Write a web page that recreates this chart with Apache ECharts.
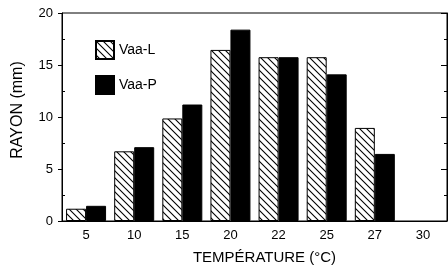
<!DOCTYPE html>
<html>
<head>
<meta charset="utf-8">
<script src="https://cdn.jsdelivr.net/npm/echarts@6/dist/echarts.min.js"></script>
<style>
  html, body { margin: 0; padding: 0; background: #fff; }
  #chart { width: 448px; height: 267px; }
</style>
</head>
<body>
<div id="chart"></div>
<script>
// températures (°C)
var categories = ['5', '10', '15', '20', '22', '25', '27', '30'];
// rayon (mm)
var vaaL = [1.18, 6.7, 9.86, 16.45, 15.75, 15.75, 8.95, null];
var vaaP = [1.46, 7.1, 11.2, 18.4, 15.75, 14.1, 6.45, null];

// motif hachuré "\"
function hatch() {
  var c = document.createElement('canvas');
  c.width = 7; c.height = 7;
  var ctx = c.getContext('2d');
  ctx.fillStyle = '#fff';
  ctx.fillRect(0, 0, 7, 7);
  ctx.strokeStyle = '#000';
  ctx.lineWidth = 1.1;
  ctx.beginPath();
  ctx.moveTo(-1, -1); ctx.lineTo(8, 8);
  ctx.moveTo(-1, 6); ctx.lineTo(1, 8);
  ctx.moveTo(6, -1); ctx.lineTo(8, 1);
  ctx.stroke();
  return c;
}

var font = 'Liberation Sans, Arial, sans-serif';
var chart = echarts.init(document.getElementById('chart'));
chart.setOption({
  backgroundColor: '#fff',
  animation: false,
  grid: {
    left: 62, right: 1, top: 13, bottom: 46,
    outerBoundsMode: 'none',
    containLabel: false,
    show: true, borderColor: '#000', borderWidth: 1
  },
  legend: {
    orient: 'vertical',
    left: 90, top: 35,
    itemWidth: 18, itemHeight: 18,
    itemGap: 15,
    icon: 'rect',
    textStyle: { fontFamily: font, fontSize: 14, color: '#000' },
    data: ['Vaa-L', 'Vaa-P']
  },
  xAxis: {
    type: 'category',
    data: categories,
    name: 'TEMPÉRATURE (°C)',
    nameLocation: 'middle',
    nameGap: 29,
    nameTextStyle: { fontFamily: font, fontSize: 15, color: '#000', padding: [0, 0, 0, 20] },
    axisLine: { lineStyle: { color: '#000', width: 1 } },
    axisTick: { show: false },
    axisLabel: { fontFamily: font, fontSize: 13, color: '#000', margin: 8 }
  },
  yAxis: [{
    type: 'value',
    min: 0, max: 20, interval: 5,
    name: 'RAYON (mm)',
    nameLocation: 'middle',
    nameGap: 36,
    nameTextStyle: { fontFamily: font, fontSize: 16, color: '#000', padding: [0, 0, 0, 14] },
    axisLine: { show: true, lineStyle: { color: '#000', width: 1 } },
    axisTick: { show: true, length: 4, lineStyle: { color: '#000' } },
    axisLabel: { fontFamily: font, fontSize: 13, color: '#000', margin: 9 },
    splitLine: { show: false }
  }, {
    type: 'value',
    position: 'right',
    min: 0, max: 20, interval: 5,
    axisLine: { show: true, lineStyle: { color: '#000', width: 1 } },
    axisTick: { show: true, inside: true, length: 6, lineStyle: { color: '#000' } },
    minorTick: { show: true, splitNumber: 2, length: 3, lineStyle: { color: '#000' } },
    axisLabel: { show: false },
    splitLine: { show: false }
  }, {
    type: 'value',
    position: 'left',
    min: 0, max: 20, interval: 5,
    axisLine: { show: false },
    axisTick: { show: false, inside: true },
    minorTick: { show: true, splitNumber: 2, length: 3, lineStyle: { color: '#000' } },
    axisLabel: { show: false },
    splitLine: { show: false }
  }],
  series: [{
    name: 'Vaa-L',
    type: 'bar',
    data: vaaL,
    barWidth: 20,
    barGap: '0%',
    itemStyle: {
      color: { image: hatch(), repeat: 'repeat' },
      borderColor: '#000', borderWidth: 1
    }
  }, {
    name: 'Vaa-P',
    type: 'bar',
    data: vaaP,
    barWidth: 20,
    barGap: '0%',
    itemStyle: { color: '#000', borderColor: '#000', borderWidth: 1 }
  }]
});
</script>
</body>
</html>
